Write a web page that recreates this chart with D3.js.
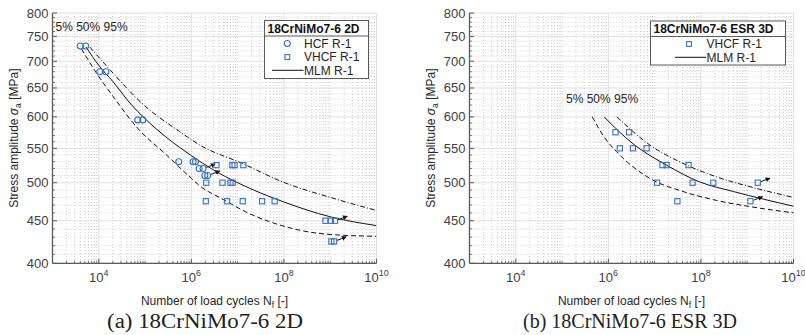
<!DOCTYPE html>
<html><head><meta charset="utf-8">
<script src="https://cdn.jsdelivr.net/npm/d3@7"></script>
<style>
body{margin:0;background:#fff;}
svg{display:block;font-family:"Liberation Sans",Arial,Helvetica,sans-serif;}
</style></head><body>
<svg id="chart" width="805" height="335"></svg>
<script>
// ---------- axis settings ----------
const xDomain = [1e3, 1e10];
const yDomain = [400, 800];
const xTickExps = [4, 6, 8, 10];
const yTicks = [400, 450, 500, 550, 600, 650, 700, 750, 800];

// ---------- 18CrNiMo7-6 2D : [cycles, stress amplitude MPa] ----------
const hcf2D = [[4.0e3,730],[5.2e3,730],[1.05e4,680],[1.42e4,680],[6.95e4,595],[8.9e4,595],
  [5.35e5,530],[1.09e6,530],[1.23e6,530],[1.47e6,520],[1.79e6,520],[1.95e6,510],[2.25e6,510]];
const vhcf2D = [[3.48e6,525],[7.7e6,525],[8.6e6,525],[1.33e7,525],
  [2.1e6,500],[4.7e6,500],[7.0e6,500],[7.8e6,500],
  [2.05e6,475],[5.9e6,475],[1.29e7,475],[3.37e7,475],[6.3e7,475],
  [7.9e8,450],[1.03e9,450],[1.27e9,450],[1.06e9,425],[1.21e9,425]];
const runout2D = [[1.79e6,520],[2.25e6,510],[1.27e9,450],[1.21e9,425]];
const mlm2D_p5  = [[4.2e3,725],[8.2e3,682],[2.0e4,636],[7e4,581],[2.9e5,540],[1e6,506],[1.5e6,496],
  [5e6,477],[1.8e7,459],[9e7,444],[7e8,434],[1e10,431]];
const mlm2D_p50 = [[5.3e3,728],[1e4,692],[2e4,662],[5e4,621],[1e5,597],[3e5,566],[1e6,539],
  [3e6,518],[1e7,500],[1e8,474],[1e9,455],[1e10,444]];
const mlm2D_p95 = [[6.4e3,728],[1.73e4,684],[9.1e4,621],[5.6e5,576],[1.52e6,555],[1.31e7,527],
  [9.5e7,501],[1.15e9,479],[1e10,463]];

// ---------- 18CrNiMo7-6 ESR 3D ----------
const vhcf3D = [[1.43e6,575],[2.8e6,575],[1.77e6,550],[3.4e6,550],[6.7e6,550],
  [1.48e7,525],[1.81e7,525],[5.4e7,525],
  [1.13e7,500],[6.6e7,500],[1.85e8,500],[1.69e9,500],
  [3.1e7,475],[1.17e9,475]];
const runout3D = [[1.69e9,500],[1.17e9,475]];
const mlm3D_p5  = [[4.5e5,600],[8e5,568],[1.5e6,545],[7.9e6,506],[4.1e7,488],[2.2e8,476],[1.15e9,468],[1e10,460]];
const mlm3D_p50 = [[8.1e5,600],[3.4e6,557],[1.8e7,525],[9.5e7,501],[5e8,488],[1e10,468.5]];
const mlm3D_p95 = [[1.53e6,600],[7.9e6,555],[4.1e7,527.5],[2.2e8,508],[1.15e9,494.5],[1e10,480]];

const BLUE = "#3a6fc4";
const svg = d3.select("#chart");

svg.append("defs").append("marker")
  .attr("id","arrowHead").attr("viewBox","0 0 6 6").attr("refX",5).attr("refY",3)
  .attr("markerWidth",5).attr("markerHeight",5).attr("orient","auto")
  .append("path").attr("d","M0,0 L6,3 L0,6 z").attr("fill","#111");

function drawPanel(cfg){
  const W = 324, top = 13, bottom = 263.3;
  const x = d3.scaleLog().domain(xDomain).range([cfg.left, cfg.left + W]);
  const y = d3.scaleLog().domain(yDomain).range([bottom, top]);
  const g = svg.append("g");

  // minor grid positions
  const minorX = [];
  for (let k = 3; k < 10; k++) for (let m = 1; m <= 9; m++) {
    const v = m * Math.pow(10, k);
    if (m === 1 && (k === 3 || xTickExps.includes(k))) continue;
    minorX.push(v);
  }
  const minorY = d3.range(410, 800, 10).filter(v => v % 50 !== 0);

  g.append("g").selectAll("line").data(minorX).join("line")
    .attr("x1", d => x(d)).attr("x2", d => x(d)).attr("y1", top).attr("y2", bottom)
    .attr("stroke","#c4c4c4").attr("stroke-width",0.8).attr("stroke-dasharray","1,2");
  g.append("g").selectAll("line").data(minorY).join("line")
    .attr("x1", cfg.left).attr("x2", cfg.left + W).attr("y1", d => y(d)).attr("y2", d => y(d))
    .attr("stroke","#c4c4c4").attr("stroke-width",0.8).attr("stroke-dasharray","1,2");
  // major grid
  g.append("g").selectAll("line").data(xTickExps.map(e => Math.pow(10,e))).join("line")
    .attr("x1", d => x(d)).attr("x2", d => x(d)).attr("y1", top).attr("y2", bottom)
    .attr("stroke","#e0e0e0").attr("stroke-width",1);
  g.append("g").selectAll("line").data(yTicks).join("line")
    .attr("x1", cfg.left).attr("x2", cfg.left + W).attr("y1", d => y(d)).attr("y2", d => y(d))
    .attr("stroke","#e0e0e0").attr("stroke-width",1);

  // axes lines and inward ticks
  const ax = g.append("g").attr("stroke","#5a5a5a");
  ax.append("line").attr("x1",cfg.left).attr("x2",cfg.left).attr("y1",top).attr("y2",bottom).attr("stroke-width",1.3);
  ax.append("line").attr("x1",cfg.left).attr("x2",cfg.left+W).attr("y1",bottom).attr("y2",bottom).attr("stroke-width",1.3);
  ax.selectAll(".ymaj").data(yTicks).join("line").attr("class","ymaj")
    .attr("x1",cfg.left).attr("x2",cfg.left+4.5).attr("y1",d=>y(d)).attr("y2",d=>y(d)).attr("stroke-width",1);
  ax.selectAll(".ymin").data(minorY).join("line").attr("class","ymin")
    .attr("x1",cfg.left).attr("x2",cfg.left+2.5).attr("y1",d=>y(d)).attr("y2",d=>y(d)).attr("stroke-width",0.8);
  ax.selectAll(".xmaj").data(xTickExps.map(e=>Math.pow(10,e))).join("line").attr("class","xmaj")
    .attr("x1",d=>x(d)).attr("x2",d=>x(d)).attr("y1",bottom).attr("y2",bottom-4.5).attr("stroke-width",1);
  ax.selectAll(".xmin").data(minorX).join("line").attr("class","xmin")
    .attr("x1",d=>x(d)).attr("x2",d=>x(d)).attr("y1",bottom).attr("y2",bottom-2.5).attr("stroke-width",0.8);

  // tick labels
  g.append("g").selectAll("text").data(yTicks).join("text")
    .attr("x", cfg.left - 4).attr("y", d => y(d) + 4.5).attr("text-anchor","end")
    .attr("font-size",13).attr("fill","#404040").text(d => d);
  const xt = g.append("g").selectAll("text").data(xTickExps).join("text")
    .attr("x", d => x(Math.pow(10,d))).attr("y", 282).attr("text-anchor","middle")
    .attr("font-size",13).attr("fill","#404040");
  xt.append("tspan").text("10");
  xt.append("tspan").attr("font-size",9).attr("dy",-6).text(d => d);

  // axis titles
  const xl = g.append("text").attr("x", cfg.left + W/2).attr("y", 305).attr("text-anchor","middle")
    .attr("font-size",12).attr("fill","#262626");
  xl.append("tspan").text("Number of load cycles N");
  xl.append("tspan").attr("font-size",8.5).attr("dy",3).text("f");
  xl.append("tspan").attr("dy",-3).text(" [-]");
  const yl = g.append("text").attr("transform",`translate(${cfg.left-35},${(top+bottom)/2}) rotate(-90)`)
    .attr("text-anchor","middle").attr("font-size",12).attr("fill","#262626");
  yl.append("tspan").text("Stress amplitude ");
  yl.append("tspan").attr("font-style","italic").text("σ");
  yl.append("tspan").attr("font-size",8.5).attr("dy",3).text("a");
  yl.append("tspan").attr("dy",-3).text(" [MPa]");

  // clip
  const clipId = "clip" + cfg.key;
  svg.select("defs").append("clipPath").attr("id",clipId).append("rect")
    .attr("x",cfg.left).attr("y",top).attr("width",W).attr("height",bottom-top);
  const plot = g.append("g").attr("clip-path",`url(#${clipId})`);

  const line = d3.line().x(d => x(d[0])).y(d => y(d[1])).curve(d3.curveMonotoneX);
  plot.append("path").datum(cfg.p5).attr("d",line).attr("fill","none").attr("stroke","#111")
    .attr("stroke-width",1).attr("stroke-dasharray","5,3");
  plot.append("path").datum(cfg.p50).attr("d",line).attr("fill","none").attr("stroke","#111")
    .attr("stroke-width",1);
  plot.append("path").datum(cfg.p95).attr("d",line).attr("fill","none").attr("stroke","#111")
    .attr("stroke-width",1).attr("stroke-dasharray","5,2,1,2");

  // runout arrows
  plot.selectAll(".ro").data(cfg.runout).join("line").attr("class","ro")
    .attr("x1", d => x(d[0]) + 3).attr("y1", d => y(d[1]) - 1)
    .attr("x2", d => x(d[0]) + 12).attr("y2", d => y(d[1]) - 4.5)
    .attr("stroke","#111").attr("stroke-width",1).attr("marker-end","url(#arrowHead)");

  // specimens
  if (cfg.hcf) plot.selectAll(".hcf").data(cfg.hcf).join("circle").attr("class","hcf")
    .attr("cx", d => x(d[0])).attr("cy", d => y(d[1])).attr("r",3)
    .attr("fill","none").attr("stroke",BLUE).attr("stroke-width",1.1);
  plot.selectAll(".vhcf").data(cfg.vhcf).join("rect").attr("class","vhcf")
    .attr("x", d => x(d[0]) - 2.6).attr("y", d => y(d[1]) - 2.6).attr("width",5.2).attr("height",5.2)
    .attr("fill","none").attr("stroke",BLUE).attr("stroke-width",1.1);

  // quantile label
  g.append("text").attr("x",cfg.qx).attr("y",cfg.qy).attr("font-size",12).attr("fill","#262626")
    .text("5% 50% 95%");

  // legend
  const L = cfg.legend;
  const lg = g.append("g");
  lg.append("rect").attr("x",L.x).attr("y",L.y).attr("width",L.w).attr("height",L.h)
    .attr("fill","#fff").attr("stroke","#5a5a5a").attr("stroke-width",1);
  lg.append("line").attr("x1",L.x).attr("x2",L.x+L.w).attr("y1",L.y+15.5).attr("y2",L.y+15.5)
    .attr("stroke","#5a5a5a").attr("stroke-width",1);
  lg.append("text").attr("x",L.x+3).attr("y",L.y+12).attr("font-size",12).attr("font-weight","bold")
    .attr("fill","#111").text(cfg.title);
  let ey = L.y + 23;
  if (cfg.hcf) {
    lg.append("circle").attr("cx",L.mx).attr("cy",ey).attr("r",3).attr("fill","none")
      .attr("stroke",BLUE).attr("stroke-width",1.1);
    lg.append("text").attr("x",L.tx).attr("y",ey+4.3).attr("font-size",12).attr("fill","#262626").text("HCF R-1");
    ey += 13.5;
  }
  lg.append("rect").attr("x",L.mx-2.4).attr("y",ey-2.4).attr("width",4.8).attr("height",4.8)
    .attr("fill","none").attr("stroke",BLUE).attr("stroke-width",1.1);
  lg.append("text").attr("x",L.tx).attr("y",ey+4.3).attr("font-size",12).attr("fill","#262626").text("VHCF R-1");
  ey += 13.3;
  lg.append("line").attr("x1",L.lx1).attr("x2",L.tx-0.5).attr("y1",ey).attr("y2",ey)
    .attr("stroke","#111").attr("stroke-width",1);
  lg.append("text").attr("x",L.tx).attr("y",ey+4.3).attr("font-size",12).attr("fill","#262626").text("MLM R-1");

  // caption
  svg.append("text").attr("x",cfg.capX).attr("y",328).attr("text-anchor","middle")
    .attr("font-family","'Liberation Serif','Times New Roman',serif").attr("font-size",20)
    .attr("textLength",cfg.capW).attr("lengthAdjust","spacingAndGlyphs")
    .attr("fill","#222").text(cfg.caption);
}

drawPanel({key:"a", left:52.5, title:"18CrNiMo7-6 2D", hcf:hcf2D, vhcf:vhcf2D, runout:runout2D,
  p5:mlm2D_p5, p50:mlm2D_p50, p95:mlm2D_p95, qx:55.5, qy:31,
  legend:{x:264.5, y:20.5, w:104, h:58, mx:287.3, tx:304, lx1:272},
  capX:205, capW:196, caption:"(a) 18CrNiMo7-6 2D"});
drawPanel({key:"b", left:469.5, title:"18CrNiMo7-6 ESR 3D", hcf:null, vhcf:vhcf3D, runout:runout3D,
  p5:mlm3D_p5, p50:mlm3D_p50, p95:mlm3D_p95, qx:566, qy:103,
  legend:{x:650.5, y:21, w:135, h:44, mx:689, tx:706.5, lx1:675},
  capX:630, capW:214, caption:"(b) 18CrNiMo7-6 ESR 3D"});
</script>
</body></html>
